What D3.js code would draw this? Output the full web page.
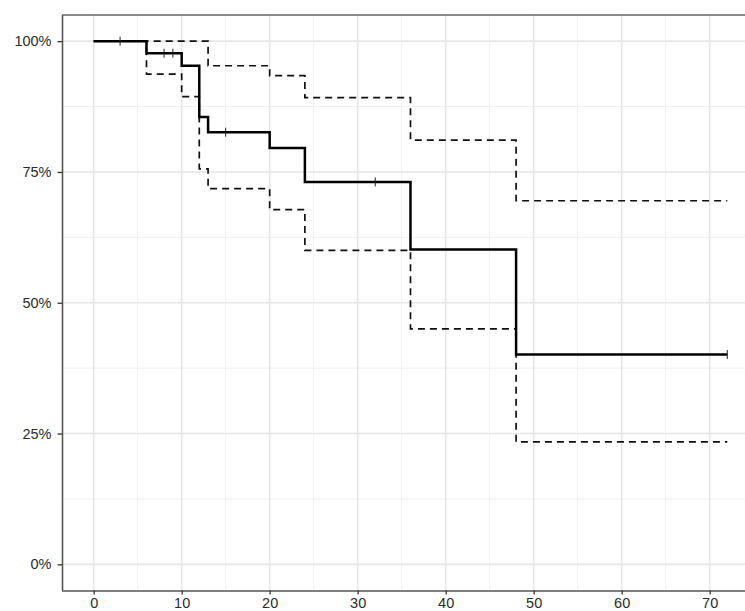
<!DOCTYPE html>
<html>
<head>
<meta charset="utf-8">
<script src="https://cdn.jsdelivr.net/npm/d3@7"></script>
<style>
  html, body { margin: 0; padding: 0; background: #fff; }
  svg { display: block; }
</style>
</head>
<body>
<script>
// Kaplan-Meier estimate with confidence band (step functions)
const times = [0, 6, 10, 12, 13, 20, 24, 36, 48, 72];
const surv  = [1, 0.977, 0.953, 0.855, 0.826, 0.796, 0.731, 0.602, 0.401, 0.401];
const upper = [1, 1, 1, 1, 0.953, 0.934, 0.892, 0.811, 0.695, 0.695];
const lower = [1, 0.937, 0.894, 0.756, 0.718, 0.678, 0.600, 0.450, 0.234, 0.234];
const censorTimes = [3, 8, 9, 15, 32, 72];
const censorSurv  = [1, 0.977, 0.977, 0.826, 0.731, 0.401];
const xTicks = [0, 10, 20, 30, 40, 50, 60, 70];
const xMinor = [5, 15, 25, 35, 45, 55, 65, 75];
const yTicks = [0, 0.25, 0.5, 0.75, 1];
const yMinor = [0.125, 0.375, 0.625, 0.875];

(function () {
const W = 745, H = 611;
const svg = d3.select("body").append("svg").attr("width", W).attr("height", H);

const pLeft = 62, pTop = 15, pBottom = 590.5;
const x = d3.scaleLinear().domain([-3.6, 75.6]).range([pLeft, pLeft + 79.2 * 8.8]);
const y = d3.scaleLinear().domain([-0.05, 1.05]).range([pBottom, pTop]);
const pRight = x(75.6);

const g = svg.append("g");
g.append("rect").attr("x", pLeft).attr("y", pTop).attr("width", pRight - pLeft).attr("height", pBottom - pTop).attr("fill", "#fff");

// grid
g.selectAll(".xminor").data(xMinor).join("line")
  .attr("x1", d => x(d)).attr("x2", d => x(d)).attr("y1", pTop).attr("y2", pBottom)
  .attr("stroke", "#f0f0f0").attr("stroke-width", 1);
g.selectAll(".yminor").data(yMinor).join("line")
  .attr("y1", d => y(d)).attr("y2", d => y(d)).attr("x1", pLeft).attr("x2", pRight)
  .attr("stroke", "#f0f0f0").attr("stroke-width", 1);
g.selectAll(".xmajor").data(xTicks).join("line")
  .attr("x1", d => x(d)).attr("x2", d => x(d)).attr("y1", pTop).attr("y2", pBottom)
  .attr("stroke", "#e6e6e6").attr("stroke-width", 1.6);
g.selectAll(".ymajor").data(yTicks).join("line")
  .attr("y1", d => y(d)).attr("y2", d => y(d)).attr("x1", pLeft).attr("x2", pRight)
  .attr("stroke", "#e6e6e6").attr("stroke-width", 1.6);

// curves
const mk = vals => times.map((t, i) => [t, vals[i]]);
const line = d3.line().x(d => x(d[0])).y(d => y(d[1])).curve(d3.curveStepAfter);

g.append("path").datum(mk(upper)).attr("d", line)
  .attr("fill", "none").attr("stroke", "#111").attr("stroke-width", 1.7).attr("stroke-dasharray", "7,5");
g.append("path").datum(mk(lower)).attr("d", line)
  .attr("fill", "none").attr("stroke", "#111").attr("stroke-width", 1.7).attr("stroke-dasharray", "7,5");
g.append("path").datum(mk(surv)).attr("d", line)
  .attr("fill", "none").attr("stroke", "#000").attr("stroke-width", 2.5);

// censor marks
g.selectAll(".cens").data(censorTimes).join("line")
  .attr("x1", d => x(d)).attr("x2", d => x(d))
  .attr("y1", (d, i) => y(censorSurv[i]) - 4.5).attr("y2", (d, i) => y(censorSurv[i]) + 4.5)
  .attr("stroke", "#222").attr("stroke-width", 1);

// panel border (top)
svg.append("line").attr("x1", pLeft).attr("x2", W).attr("y1", pTop).attr("y2", pTop)
  .attr("stroke", "#666").attr("stroke-width", 1.5);

// axes
const xAxis = d3.axisBottom(x).tickValues(xTicks).tickSize(4).tickPadding(3);
const yAxis = d3.axisLeft(y).tickValues(yTicks).tickSize(4.5).tickPadding(6).tickFormat(d3.format(".0%"));

const gx = svg.append("g").attr("transform", `translate(0,${pBottom})`).call(xAxis);
const gy = svg.append("g").attr("transform", `translate(${pLeft},0)`).call(yAxis);
gx.select(".domain").attr("d", `M${pLeft},0.5H${W}`).attr("stroke", "#555").attr("stroke-width", 1.6);
gy.select(".domain").attr("d", `M0.5,${pTop}V${pBottom}`).attr("stroke", "#555").attr("stroke-width", 1.6);
[gx, gy].forEach(a => {
  a.selectAll(".tick line").attr("stroke", "#333").attr("stroke-width", 1.3);
  a.selectAll(".tick text").attr("fill", "#2b2b2b")
    .style("font-family", "'Liberation Sans', Arial, sans-serif").style("font-size", "14.5px");
});
})();
</script>
</body>
</html>
